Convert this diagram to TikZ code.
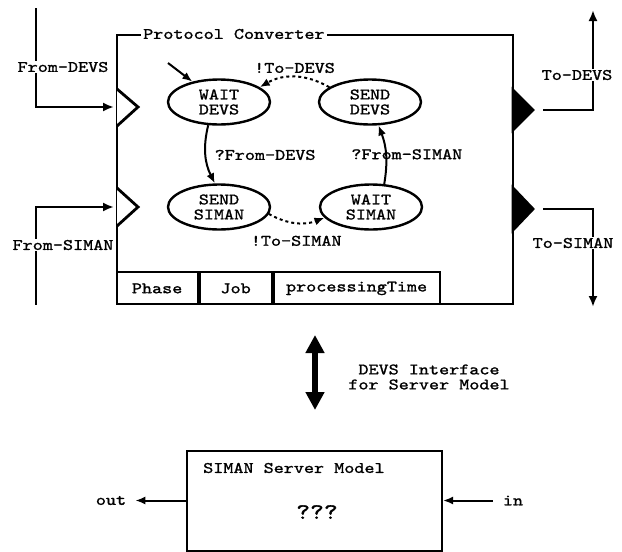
\documentclass[tikz,border=0pt]{standalone}
\usepackage{fontspec}
\newfontfamily\cour[FakeStretch=1.2,FakeBold=1.3]{lmmono10-regular.otf}
\usetikzlibrary{arrows.meta,shapes.geometric}
\begin{document}
\begin{tikzpicture}[x=1pt,y=1pt,
  every node/.style={font=\cour\fontsize{16}{15}\selectfont, inner sep=1pt},
  state/.style={ellipse, draw, line width=2.4pt, minimum width=102pt, minimum height=45pt, inner sep=0pt, align=center},
  port/.style={line width=2.8pt},
  tip/.style={-{Latex[length=11pt,width=9pt]}},
  conn/.style={line width=2pt, -{Latex[length=10pt,width=8pt]}},
  dots/.style={conn, dash pattern=on 3pt off 3pt},
  cell/.style={draw, line width=2pt, minimum height=32pt, inner sep=0pt},
  box/.style={draw, inner sep=0pt}
]
\useasboundingbox (0,0) rectangle (622,-552);

% main box
\node[box, line width=2.8pt, minimum width=396pt, minimum height=269pt] (pc) at (315,-169.5) {};
\node[fill=white, anchor=west, inner xsep=2pt] (title) at (141,-34) {Protocol Converter};

% state table
\node[cell, minimum width=81pt, anchor=south west] (c1) at (pc.south west) {Phase};
\node[cell, minimum width=72pt, anchor=south west] (c2) at (c1.south east) {Job};
\node[cell, minimum width=166pt, anchor=south west] (c3) at (c2.south east) {processingTime};

% ports
\draw[port, fill=white, line join=miter] (117,-89) -- (138,-107) -- (117,-126);
\draw[port, fill=white, line join=miter] (117,-188) -- (138,-207) -- (117,-226);
\draw[port, fill=black, line join=miter] (513,-90) -- (533,-110) -- (513,-130) -- cycle;
\draw[port, fill=black, line join=miter] (513,-188) -- (533,-209) -- (513,-230) -- cycle;
\coordinate (inD) at (117,-107);
\coordinate (inS) at (117,-207);
\coordinate (outD) at (543,-110);
\coordinate (outS) at (543,-209);

% From-DEVS
\coordinate (fdtop) at (36,-8);
\node (fd) at (63,-67) {From-DEVS};
\draw[port] (fdtop) -- (fdtop |- fd.north);
\draw[port, tip, shorten >=3pt] (fdtop |- fd.south) -- (fdtop |- inD) -- (inD);

% From-SIMAN
\coordinate (fsbot) at (36,-305);
\node (fs) at (63,-245) {From-SIMAN};
\draw[port, tip, shorten >=3pt] (fsbot |- fs.north) -- (fsbot |- inS) -- (inS);
\draw[port] (fsbot |- fs.south) -- (fsbot);

% To-DEVS
\coordinate (tdtop) at (593,-10);
\node (td) at (577,-75) {To-DEVS};
\draw[port] (outD) -- (outD -| tdtop) -- (tdtop |- td.south);
\draw[port, tip] (tdtop |- td.north) -- (tdtop);

% To-SIMAN
\coordinate (tsbot) at (593,-307);
\node (ts) at (573,-243) {To-SIMAN};
\draw[port] (outS) -- (outS -| tsbot) -- (tsbot |- ts.north);
\draw[port, tip] (tsbot |- ts.south) -- (tsbot);

% states
\node[state] (wd) at (219,-102) {WAIT\\DEVS};
\node[state] (sd) at (370,-102) {SEND\\DEVS};
\node[state] (ss) at (219,-207) {SEND\\SIMAN};
\node[state] (ws) at (371,-207) {WAIT\\SIMAN};

\coordinate (init) at (168,-63);
\draw[conn] (init) -- (wd);
\draw[dots] (sd.160) to[bend right=30] node[above=2pt] {!To-DEVS} (wd.20);
\draw[conn] (wd.245) to[bend right=20] node[right=7pt] {?From-DEVS} (ss.100);
\draw[conn] (ws.60) to[bend right=15] node[xshift=21pt] {?From-SIMAN} (sd.290);
\draw[dots] (ss.-8) to[bend right=25] node[below=11pt] {!To-SIMAN} (ws.193);

% interface arrow
\coordinate (da1) at (315,-335);
\coordinate (da2) at (315,-410);
\draw[line width=5.5pt, {Triangle[length=18pt,width=18pt]}-{Triangle[length=18pt,width=18pt]}] (da1) -- (da2);
\node[align=center] (dl) at (429,-377) {DEVS Interface\\for Server Model};

% server model
\node[box, line width=2pt, minimum width=255pt, minimum height=100pt] (srv) at (314.5,-500.5) {};
\node[anchor=west] (st) at (202,-468) {SIMAN Server Model};
\node[font=\cour\fontsize{22}{22}\selectfont] (q) at (317,-512) {???};
\node (out) at (111,-500.5) {out};
\node (in) at (513,-500.5) {in};
\draw[conn, shorten >=8pt] (srv.west) -- (out.east);
\draw[conn, shorten <=9pt] (in.west) -- (srv.east);
\end{tikzpicture}
\end{document}
